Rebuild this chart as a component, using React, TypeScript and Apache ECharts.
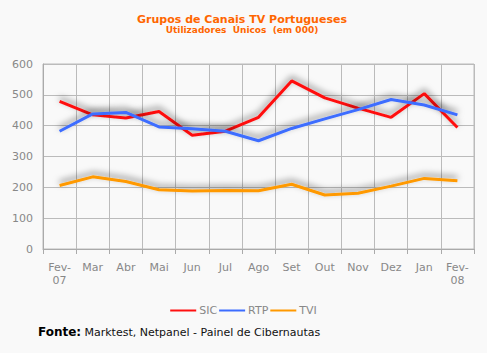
import React, { useEffect, useRef } from "react";
import * as echarts from "echarts";

const categories = ["Fev-\n07", "Mar", "Abr", "Mai", "Jun", "Jul", "Ago", "Set", "Out", "Nov", "Dez", "Jan", "Fev-\n08"];
const sic = [479, 435, 425, 446, 369, 382, 427, 545, 490, 457, 427, 504, 394];
const rtp = [382, 438, 443, 396, 390, 382, 351, 391, 422, 452, 485, 467, 435];
const tvi = [206, 234, 219, 192, 188, 190, 189, 210, 175, 181, 204, 229, 221];
const yTicks = { min: 0, max: 600, interval: 100 };

export default function App() {
  const ref = useRef<HTMLDivElement>(null);
  useEffect(() => {
    const chart = echarts.init(ref.current!, null, { renderer: "svg" });
    const mk = (name: string, data: number[], color: string) => ({
      name,
      type: "line",
      data,
      symbol: "none",
      color,
      lineStyle: {
        width: 3,
        color,
        shadowColor: "rgba(0,0,0,0.5)",
        shadowBlur: 6,
        shadowOffsetY: -3,
      },
    });
    chart.setOption({
      animation: false,
      backgroundColor: "#f9f9f9",
      textStyle: { fontFamily: "DejaVu Sans" },
      title: {
        text: "Grupos de Canais TV Portugueses",
        subtext: "Utilizadores  Únicos  (em 000)",
        left: 237,
        textAlign: "center",
        top: 9,
        itemGap: 0,
        textStyle: { color: "#ff6600", fontSize: 11, fontWeight: "bold", fontFamily: "DejaVu Sans" },
        subtextStyle: { color: "#ff6600", fontSize: 9, fontWeight: "bold", fontFamily: "DejaVu Sans" },
      },
      legend: {
        top: 300,
        left: "center",
        icon: "rect",
        itemWidth: 26,
        itemHeight: 2,
        itemGap: 2,
        textStyle: { color: "#888", fontSize: 11, padding: [0, 0, 0, -2] },
        data: ["SIC", "RTP", "TVI"],
      },
      grid: { left: 43, right: 13, top: 64, bottom: 104, show: true, borderColor: "#bbb", borderWidth: 1 },
      xAxis: {
        type: "category",
        data: categories,
        boundaryGap: true,
        axisLine: { lineStyle: { color: "#aaa" } },
        axisTick: { show: true, length: 5, lineStyle: { color: "#aaa" } },
        splitLine: { show: true, lineStyle: { color: "#bbb" } },
        axisLabel: { color: "#888", fontSize: 11, margin: 12, interval: 0, lineHeight: 13 },
      },
      yAxis: {
        type: "value",
        min: yTicks.min,
        max: yTicks.max,
        interval: yTicks.interval,
        axisLine: { show: true, lineStyle: { color: "#aaa" } },
        axisTick: { show: false },
        splitLine: { lineStyle: { color: "#bbb" } },
        axisLabel: { color: "#888", fontSize: 11, margin: 10 },
      },
      graphic: [
        {
          type: "text",
          left: 38,
          top: 326,
          style: {
            rich: {
              b: { fontWeight: "bold", fontSize: 12, fill: "#000", fontFamily: "DejaVu Sans" },
              n: { fontSize: 11, fill: "#111", fontFamily: "DejaVu Sans" },
            },
            text: "{b|Fonte:} {n|Marktest, Netpanel - Painel de Cibernautas}",
          },
        },
      ],
      series: [mk("SIC", sic, "#ff1010"), mk("RTP", rtp, "#3d6dff"), mk("TVI", tvi, "#ff9900")],
    });
    return () => chart.dispose();
  }, []);
  return <div ref={ref} style={{ width: 487, height: 353, position: "absolute", left: 0, top: 0 }} />;
}
